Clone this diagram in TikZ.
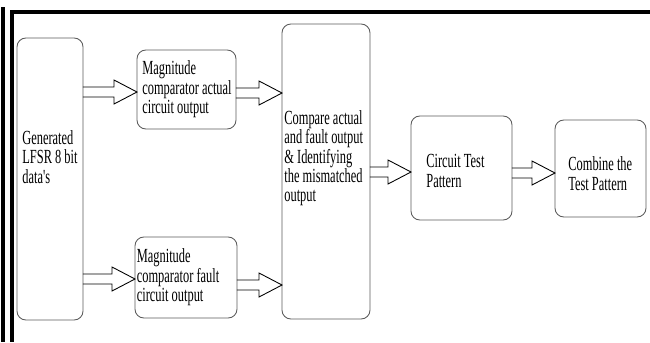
\documentclass[tikz,border=0pt]{standalone}
\usepackage{fontspec}
\setmainfont{Liberation Serif}[FakeStretch=0.62, Ligatures=TeXOff]
\usepackage{tikz}
\usetikzlibrary{calc}
\definecolor{boxgray}{RGB}{90,90,90}
% hollow block arrow from one box to the next, at height #3
\newcommand{\blockarrow}[3]{%
  \coordinate (s) at (#1.east |- 0,#3);
  \coordinate (e) at (#2.west |- 0,#3);
  \draw[arrowline] ($(s)+(0,-5)$) -- ($(e)+(-23,-5)$) -- ($(e)+(-23,-12)$) -- (e)
        -- ($(e)+(-23,12)$) -- ($(e)+(-23,5)$) -- ($(s)+(0,5)$);}

\begin{document}
\begin{tikzpicture}[x=0.02cm, y=-0.02cm,
    blockbox/.style={draw=boxgray, line width=0.5pt, rounded corners=5pt,
                     inner sep=0pt, outer sep=0pt},
    txt/.style={anchor=west, align=left, inner sep=0pt,
                font=\fontsize{11.4}{11}\selectfont},
    arrowline/.style={draw=black, line width=0.5pt, line join=miter},
    frame/.style={line width=1.8pt}]
  \useasboundingbox (0,0) rectangle (650,342);
  % page frame
  \draw[frame] (3,7) -- (3,342);
  \draw[frame] (650,12) -- (12,12) -- (12,342);
  % boxes
  \node[blockbox, minimum width=1.32cm, minimum height=5.64cm] (gen) at (50,179) {};
  \node[blockbox, minimum width=1.98cm, minimum height=1.58cm] (act) at (186.5,89.5) {};
  \node[blockbox, minimum width=2.04cm, minimum height=1.62cm] (flt) at (186,277.5) {};
  \node[blockbox, minimum width=1.76cm, minimum height=5.9cm] (cmp) at (326,171.5) {};
  \node[blockbox, minimum width=2.02cm, minimum height=2.08cm] (ctp) at (461.5,168) {};
  \node[blockbox, minimum width=1.82cm, minimum height=1.94cm] (comb) at (600.5,168.5) {};
  % texts
  \node[txt] (gentxt) at ([xshift=0.1cm, yshift=0.44cm]gen.west)
       {Generated\\LFSR 8 bit\\data's};
  \node[txt] (acttxt) at ([xshift=0.1cm]act.west)
       {Magnitude\\comparator actual\\circuit output};
  \node[txt] (flttxt) at ([xshift=0.03cm]flt.west)
       {Magnitude\\comparator fault\\circuit output};
  \node[txt] (cmptxt) at ([xshift=0.04cm, yshift=0.26cm]cmp.west)
       {Compare actual\\and fault output\\\& Identifying\\the mismatched\\output};
  \node[txt] (ctptxt) at ([xshift=0.3cm, yshift=-0.06cm]ctp.west)
       {Circuit Test\\Pattern};
  \node[txt] (combtxt) at ([xshift=0.26cm, yshift=-0.1cm]comb.west)
       {Combine the\\Test Pattern};
  % arrows
  \blockarrow{gen}{act}{92}
  \blockarrow{gen}{flt}{279}
  \blockarrow{act}{cmp}{93}
  \blockarrow{flt}{cmp}{285}
  \blockarrow{cmp}{ctp}{172}
  \blockarrow{ctp}{comb}{173}
\end{tikzpicture}
\end{document}
